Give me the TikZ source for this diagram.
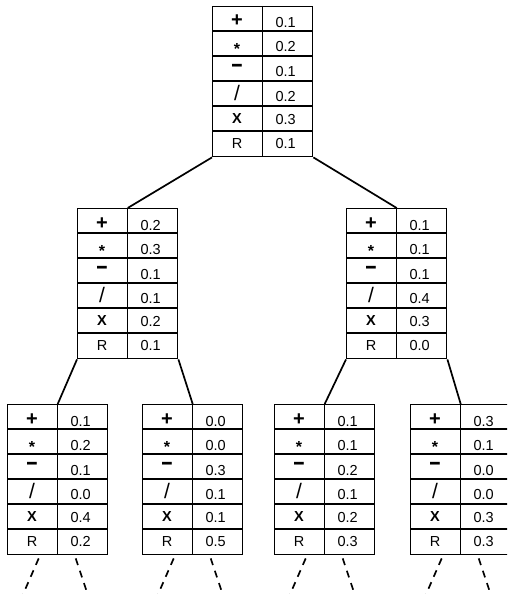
\documentclass[tikz,border=0pt]{standalone}
\usepackage{fontspec}
\setmainfont{Liberation Sans}
\usetikzlibrary{calc}
\tikzset{
  tbl/.style={draw, line width=1.4pt, rectangle, minimum width=100pt, minimum height=150pt, inner sep=0pt},
  grid/.style={line width=1.4pt},
  edge/.style={line width=1.7pt},
  dashedge/.style={line width=1.7pt, dash pattern=on 7pt off 6pt},
  sym/.style={anchor=base, inner sep=0pt},
  val/.style={anchor=base, inner sep=0pt, font=\fontsize{14.5}{14.5}\selectfont},
}
\newcommand\gptable[9]{%
  \node[tbl, anchor=north west] (#1) at (#2,-#3) {};
  \draw[grid] (#1.north) -- (#1.south);
  \foreach \i in {1,...,5} {\draw[grid] ($(#1.north west)+(0,-25*\i)$) -- ($(#1.north east)+(0,-25*\i)$);}
  \node[sym, font=\fontsize{20}{20}\bfseries] (#1s1) at ($(#1.north west)+(25,-21)$) {+};
  \node[sym, font=\fontsize{16}{16}\bfseries] (#1s2) at ($(#1.north west)+(25,-48.5)$) {*};
  \node[sym, font=\fontsize{16}{16}\bfseries] (#1s3) at ($(#1.north west)+(25,-65.3)$) {\scalebox{2.4}[1.4]{-}};
  \node[sym, font=\fontsize{21}{21}\selectfont] (#1s4) at ($(#1.north west)+(25,-94)$) {/};
  \node[sym, font=\fontsize{14.5}{14.5}\bfseries] (#1s5) at ($(#1.north west)+(25,-117)$) {X};
  \node[sym, font=\fontsize{14.5}{14.5}\selectfont] (#1s6) at ($(#1.north west)+(25,-142)$) {R};
  \node[val] (#1v1) at ($(#1.north)+(23,-22)$) {#4};
  \node[val] (#1v2) at ($(#1.north)+(23,-46)$) {#5};
  \node[val] (#1v3) at ($(#1.north)+(23,-71)$) {#6};
  \node[val] (#1v4) at ($(#1.north)+(23,-95)$) {#7};
  \node[val] (#1v5) at ($(#1.north)+(23,-118)$) {#8};
  \node[val] (#1v6) at ($(#1.north)+(23,-142)$) {#9};
}
\newcommand\dashlegs[1]{%
  \coordinate (#1a) at ($(#1.south)+(-19,-3)$);
  \coordinate (#1b) at ($(#1.south)+(-36,-42)$);
  \coordinate (#1c) at ($(#1.south)+(18,-3)$);
  \coordinate (#1d) at ($(#1.south)+(31,-42)$);
  \draw[dashedge] (#1a) -- (#1b);
  \draw[dashedge] (#1c) -- (#1d);
}
\begin{document}
\begin{tikzpicture}[x=1pt,y=1pt]
\useasboundingbox (0,0) rectangle (507,-594);
\begin{scope}
\clip (0,0) rectangle (507,-594);
\gptable{T}{212}{6}{0.1}{0.2}{0.1}{0.2}{0.3}{0.1}
\gptable{L}{77}{208}{0.2}{0.3}{0.1}{0.1}{0.2}{0.1}
\gptable{R}{346}{208}{0.1}{0.1}{0.1}{0.4}{0.3}{0.0}
\gptable{LL}{7}{404}{0.1}{0.2}{0.1}{0.0}{0.4}{0.2}
\gptable{LR}{142}{404}{0.0}{0.0}{0.3}{0.1}{0.1}{0.5}
\gptable{RL}{274}{404}{0.1}{0.1}{0.2}{0.1}{0.2}{0.3}
\gptable{RR}{410}{404}{0.3}{0.1}{0.0}{0.0}{0.3}{0.3}
\draw[edge] (T.south west) -- (L.north);
\draw[edge] (T.south east) -- (R.north);
\draw[edge] (L.south west) -- (LL.north);
\draw[edge] (L.south east) -- (LR.north);
\draw[edge] (R.south west) -- (RL.north);
\draw[edge] (R.south east) -- (RR.north);
\dashlegs{LL}
\dashlegs{LR}
\dashlegs{RL}
\dashlegs{RR}
\end{scope}
\end{tikzpicture}
\end{document}
